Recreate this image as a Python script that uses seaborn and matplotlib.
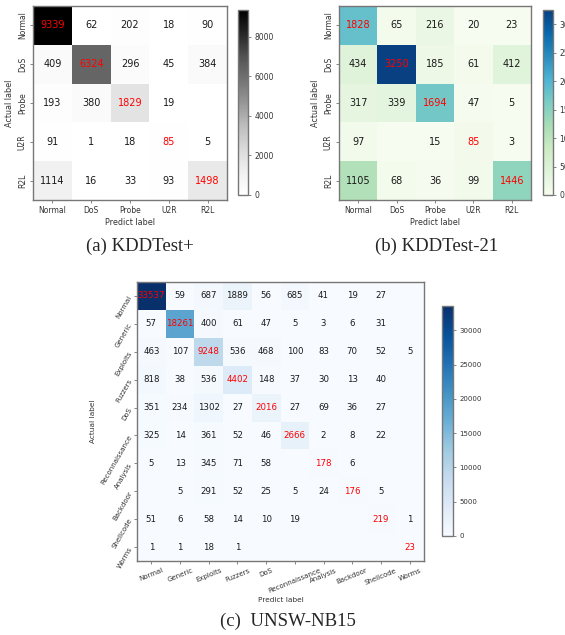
import numpy as np
import pandas as pd
import matplotlib
matplotlib.use("Agg")
import matplotlib.pyplot as plt
import seaborn as sns

sns.set_style("white")
plt.rcParams['font.family'] = ['DejaVu Sans']

kdd_labels = ["Normal", "DoS", "Probe", "U2R", "R2L"]
kdd_test_plus = [
    [9339, 62, 202, 18, 90],
    [409, 6324, 296, 45, 384],
    [193, 380, 1829, 19, 0],
    [91, 1, 18, 85, 5],
    [1114, 16, 33, 93, 1498],
]
kdd_test_21 = [
    [1828, 65, 216, 20, 23],
    [434, 3250, 185, 61, 412],
    [317, 339, 1694, 47, 5],
    [97, 0, 15, 85, 3],
    [1105, 68, 36, 99, 1446],
]
unsw_labels = ["Normal", "Generic", "Exploits", "Fuzzers", "DoS",
               "Reconnaissance", "Analysis", "Backdoor", "Shellcode", "Worms"]
unsw_nb15 = [
    [33537, 59, 687, 1889, 56, 685, 41, 19, 27, 0],
    [57, 18261, 400, 61, 47, 5, 3, 6, 31, 0],
    [463, 107, 9248, 536, 468, 100, 83, 70, 52, 5],
    [818, 38, 536, 4402, 148, 37, 30, 13, 40, 0],
    [351, 234, 1302, 27, 2016, 27, 69, 36, 27, 0],
    [325, 14, 361, 52, 46, 2666, 2, 8, 22, 0],
    [5, 13, 345, 71, 58, 0, 178, 6, 0, 0],
    [0, 5, 291, 52, 25, 5, 24, 176, 5, 0],
    [51, 6, 58, 14, 10, 19, 0, 0, 219, 1],
    [1, 1, 18, 1, 0, 0, 0, 0, 0, 23],
]
captions = ["(a) KDDTest+", "(b) KDDTest-21", "(c)  UNSW-NB15"]

W, H = 565, 635
fig = plt.figure(figsize=(W / 100, H / 100), dpi=100)


def rect(x0, y0, x1, y1):
    return [x0 / W, 1 - y1 / H, (x1 - x0) / W, (y1 - y0) / H]


def draw(mat, labels, cmap, ax_r, cb_r, fs, tfs, cbfs, cbticks, rot=False):
    arr = np.array(mat)
    df = pd.DataFrame(arr, index=labels, columns=labels)
    annot = np.where(arr == 0, "", arr.astype(str))
    ax = fig.add_axes(rect(*ax_r))
    cax = fig.add_axes(rect(*cb_r))
    sns.heatmap(df, ax=ax, cbar_ax=cax, cmap=cmap, annot=annot, fmt="",
                vmin=0, vmax=arr.max(),
                annot_kws={"fontsize": fs, "color": "#1a1a1a"},
                cbar_kws={"ticks": cbticks})
    for t in ax.texts:
        x, y = t.get_position()
        if int(x) == int(y):
            t.set_color("red")
        else:
            t.set_color("#1a1a1a")
    for s in ax.spines.values():
        s.set_visible(True)
        s.set_color("#777777")
        s.set_linewidth(1.0)
    ax.tick_params(axis="both", which="both", length=2.5, width=0.5,
                   color="#555555", labelsize=tfs, bottom=True, left=True,
                   pad=2, labelcolor="#333333")
    if rot:
        ax.set_xticklabels(labels, rotation=22, ha="center", fontsize=tfs)
        ax.set_yticklabels(labels, rotation=60, ha="right", va="center",
                           rotation_mode="anchor", fontsize=tfs)
    else:
        ax.set_xticklabels(labels, rotation=0, fontsize=tfs)
        ax.set_yticklabels(labels, rotation=90, va="center", fontsize=tfs)
    ax.set_xlabel("Predict label", fontsize=tfs + 0.3, color="#333333", labelpad=2)
    ax.set_ylabel("Actual label", fontsize=tfs + 0.3, color="#333333", labelpad=3)
    cb = ax.collections[0].colorbar
    cb.outline.set_edgecolor("#777777")
    cb.outline.set_linewidth(1.0)
    cax.tick_params(labelsize=cbfs, length=2.5, width=0.5, color="#555555",
                    pad=2, labelcolor="#333333")
    return ax


draw(kdd_test_plus, kdd_labels, "Greys", (33, 6, 227, 200), (238, 10, 248, 195),
     7, 5.5, 5.5, [0, 2000, 4000, 6000, 8000])
draw(kdd_test_21, kdd_labels, "GnBu", (339, 6, 531, 200), (543, 10, 553, 195),
     7, 5.5, 5.5, [0, 500, 1000, 1500, 2000, 2500, 3000])
draw(unsw_nb15, unsw_labels, "Blues", (137, 282, 424, 561), (442, 306, 453, 536),
     6.2, 5, 5, [0, 5000, 10000, 15000, 20000, 25000, 30000], rot=True)

serif = ["Liberation Serif", "DejaVu Serif"]
fig.text(140 / W, 1 - 246 / H, captions[0], ha="center", va="center",
         fontsize=13.5, family=serif)
fig.text(437 / W, 1 - 246 / H, captions[1], ha="center", va="center",
         fontsize=13.5, family=serif)
fig.text(288 / W, 1 - 621 / H, captions[2], ha="center", va="center",
         fontsize=13.5, family=serif)

fig.savefig("out.png", dpi=100)
